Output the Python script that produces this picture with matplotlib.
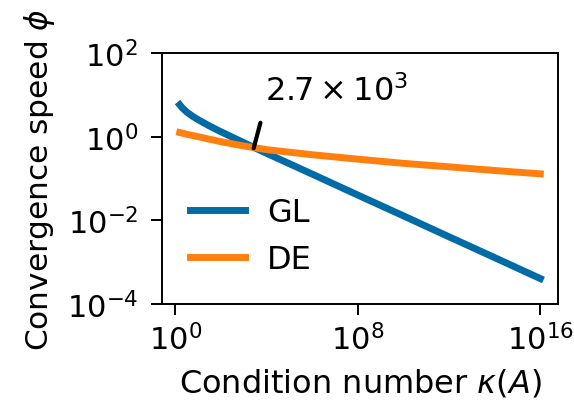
import matplotlib
matplotlib.use('Agg')
from matplotlib import pyplot as plt
from matplotlib import ticker

# condition numbers kappa(A) at which the speeds were read
kappa = [1.55, 2, 3.16, 5.6, 10, 31.6, 100, 1e3, 1e4, 1e6, 1e8, 1e10, 1e12, 1e14, 1e16]
# convergence speed phi for Gauss-Legendre and double exponential
phi_gl = [5.81, 4.90, 3.89, 3.10, 2.55, 1.80, 1.31, 0.72, 0.40, 0.127, 0.040,
          0.0127, 0.0040, 0.00127, 0.00040]
phi_de = [1.26, 1.22, 1.14, 1.07, 1.0, 0.87, 0.76, 0.60, 0.49, 0.37, 0.29,
          0.23, 0.19, 0.155, 0.129]
labels = ['GL', 'DE']
cross_kappa = 2.7e3
cross_phi = 0.53

plt.rcParams['font.size'] = 23
plt.rcParams['axes.linewidth'] = 1.4

fig = plt.figure(figsize=(5.74, 4.10), dpi=100)
ax = fig.add_axes([0.2817, 0.2568, 0.691, 0.611])
ax.plot(kappa, phi_gl, color='#006BA4', lw=5, label=labels[0])
ax.plot(kappa, phi_de, color='#FF800E', lw=5, label=labels[1])
ax.set_xscale('log')
ax.set_yscale('log')
ax.set_ylim(1e-4, 1e2)
ax.set_xticks([1, 1e8, 1e16])
ax.set_yticks([1e-4, 1e-2, 1, 1e2])
ax.xaxis.set_minor_locator(ticker.NullLocator())
ax.yaxis.set_minor_locator(ticker.NullLocator())
ax.tick_params(length=8, width=1.4, labelsize=22)
ax.tick_params(axis='x', pad=6)
ax.tick_params(axis='y', pad=9)
ax.set_xlabel(r'Condition number $\kappa(A)$', labelpad=8)
ax.set_ylabel(r'Convergence speed $\phi$', fontsize=22.5, labelpad=7)

ax.annotate(r'$2.7 \times 10^3$', xy=(cross_kappa, cross_phi), xytext=(8, 30),
            textcoords='offset points', ha='left', va='bottom',
            arrowprops=dict(arrowstyle='-', lw=3, color='k', relpos=(0, 0),
                            shrinkA=10, shrinkB=0))

ax.legend(loc='lower left', frameon=False, handlelength=1.7, handletextpad=0.7)
fig.savefig('out.png')
